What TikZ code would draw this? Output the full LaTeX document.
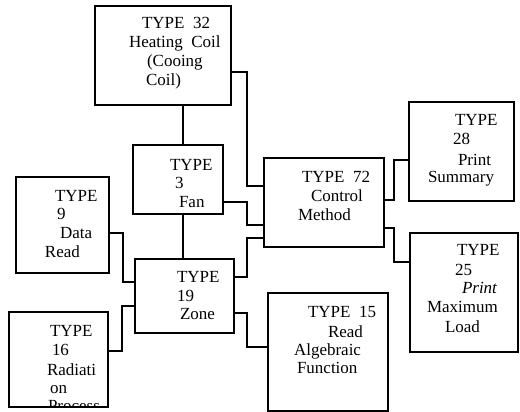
\documentclass[tikz,border=0pt]{standalone}
\usepackage{fontspec}
\setmainfont{Liberation Serif}
\begin{document}
\begin{tikzpicture}[x=1pt,y=-1pt,
  box/.style={draw, line width=1.2pt, inner sep=0pt, outer sep=0pt, anchor=north west},
  lbl/.style={anchor=base west, inner sep=0pt, outer sep=0pt, font=\fontsize{17}{18}\selectfont},
  wire/.style={line width=1.1pt}]
\useasboundingbox (0,0) rectangle (520,412);
% boxes
\node[box, minimum width=136pt, minimum height=99pt] (b32) at (95,6) {};
\node[box, minimum width=90pt,  minimum height=69pt] (b3)  at (133,145) {};
\node[box, minimum width=93pt,  minimum height=96pt] (b9)  at (16,177) {};
\node[box, minimum width=99pt,  minimum height=74pt] (b19) at (135,259) {};
\node[box, minimum width=99pt,  minimum height=95pt] (b16) at (9,312) {};
\node[box, minimum width=120pt, minimum height=89pt] (b72) at (264,158) {};
\node[box, minimum width=105pt, minimum height=99pt] (b28) at (409,102) {};
\node[box, minimum width=108pt, minimum height=119pt] (b25) at (410,233) {};
\node[box, minimum width=120pt, minimum height=118pt] (b15) at (268,293) {};
% texts
\node[lbl] (t32a) at (142,29) {TYPE~~32};
\node[lbl] (t32b) at (129,48) {Heating~~Coil};
\node[lbl] (t32c) at (147,67) {(Cooing};
\node[lbl] (t32d) at (146,85) {Coil)};
\node[lbl] (t3a) at (170,170) {TYPE};
\node[lbl] (t3b) at (175,188) {3};
\node[lbl] (t3c) at (179,207) {Fan};
\node[lbl] (t9a) at (55,201) {TYPE};
\node[lbl] (t9b) at (57,219) {9};
\node[lbl] (t9c) at (60,238) {Data};
\node[lbl] (t9d) at (45,257) {Read};
\node[lbl] (t19a) at (177,282) {TYPE};
\node[lbl] (t19b) at (177,301) {19};
\node[lbl] (t19c) at (180,319) {Zone};
\node[lbl] (t16a) at (50,336) {TYPE};
\node[lbl] (t16b) at (52,355) {16};
\node[lbl] (t16c) at (47,375) {Radiati};
\node[lbl] (t16d) at (50,393) {on};
\begin{scope}
  \clip (b16.north west) rectangle (b16.south east);
  \node[lbl] (t16e) at (48,411) {Process};
\end{scope}
\node[lbl] (t72a) at (302,182) {TYPE~~72};
\node[lbl] (t72b) at (311,201) {Control};
\node[lbl] (t72c) at (298,220) {Method};
\node[lbl] (t28a) at (455,125) {TYPE};
\node[lbl] (t28b) at (453,145) {28};
\node[lbl] (t28c) at (458,165) {Print};
\node[lbl] (t28d) at (428,182) {Summary};
\node[lbl] (t25a) at (457,255) {TYPE};
\node[lbl] (t25b) at (455,275) {25};
\node[lbl] (t25c) at (462,293) {\itshape Print};
\node[lbl] (t25d) at (427,312) {Maximum};
\node[lbl] (t25e) at (445,332) {Load};
\node[lbl] (t15a) at (308,317) {TYPE~~15};
\node[lbl] (t15b) at (328,337) {Read};
\node[lbl] (t15c) at (294,355) {Algebraic};
\node[lbl] (t15d) at (297,373) {Function};
% elbow coordinates
\coordinate (c1a) at (247,72);  \coordinate (c1b) at (247,186);
\coordinate (c2) at (183,0);
\coordinate (c3a) at (247,202); \coordinate (c3b) at (247,225);
\coordinate (c5a) at (247,277); \coordinate (c5b) at (247,238);
\coordinate (c6a) at (247,313); \coordinate (c6b) at (247,347);
\coordinate (c7a) at (123,233); \coordinate (c7b) at (123,282);
\coordinate (c8a) at (122,351); \coordinate (c8b) at (122,306);
\coordinate (c9a) at (394,200); \coordinate (c9b) at (394,160);
\coordinate (c10a) at (394,228); \coordinate (c10b) at (394,262);
% connectors
\draw[wire] (b32.east |- c1a) -- (c1a) -- (c1b) -- (b72.west |- c1b);
\draw[wire] (b32.south -| c2) -- (b3.north -| c2);
\draw[wire] (b3.east |- c3a) -- (c3a) -- (c3b) -- (b72.west |- c3b);
\draw[wire] (b3.south -| c2) -- (b19.north -| c2);
\draw[wire] (b19.east |- c5a) -- (c5a) -- (c5b) -- (b72.west |- c5b);
\draw[wire] (b19.east |- c6a) -- (c6a) -- (c6b) -- (b15.west |- c6b);
\draw[wire] (b9.east |- c7a) -- (c7a) -- (c7b) -- (b19.west |- c7b);
\draw[wire] (b16.east |- c8a) -- (c8a) -- (c8b) -- (b19.west |- c8b);
\draw[wire] (b72.east |- c9a) -- (c9a) -- (c9b) -- (b28.west |- c9b);
\draw[wire] (b72.east |- c10a) -- (c10a) -- (c10b) -- (b25.west |- c10b);
\end{tikzpicture}
\end{document}
